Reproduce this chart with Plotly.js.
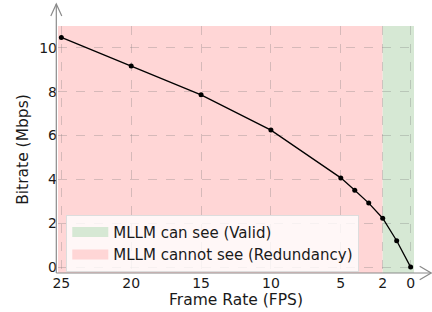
<!DOCTYPE html>
<html>
<head>
<meta charset="utf-8">
<script src="https://cdn.plot.ly/plotly-3.0.1.min.js"></script>
<style>html,body{margin:0;padding:0;background:#fff;}#chart{width:432px;height:312px;}</style>
</head>
<body>
<div id="chart"></div>
<script>
// Data
const fps = [25, 20, 15, 10, 5, 4, 3, 2, 1, 0];
const bitrate = [10.48, 9.18, 7.86, 6.25, 4.07, 3.51, 2.92, 2.23, 1.20, 0.0];
const xTicks = [25, 20, 15, 10, 5, 2, 0];
const yTicks = [0, 2, 4, 6, 8, 10];
const threshold = 2;
const xRange = [25.24, -0.24];
const yRange = [-0.27, 11.0];
const validLabel = 'MLLM can see (Valid)';
const redundantLabel = 'MLLM cannot see (Redundancy)';
const validColor = '#d6e8d4';
const redundantColor = '#ffd6d6';

const W = 432, H = 312;
const M = {l: 57.7, r: 17.7, t: 26, b: 38.7};
const pw = W - M.l - M.r, ph = H - M.t - M.b;
const px2x = p => (p - M.l) / pw;
const py2y = p => (H - M.b - p) / ph;

const axisCol = '#8a8a8a';
const font = 'DejaVu Sans, sans-serif';

const trace = {
  x: fps, y: bitrate, type: 'scatter', mode: 'lines+markers',
  line: {color: '#000', width: 1.3},
  marker: {color: '#000', size: 5},
  showlegend: false, hoverinfo: 'skip'
};
// legend entries for the shaded regions
const legValid = {x: [null], y: [null], type: 'scatter', mode: 'lines',
  line: {color: validColor, width: 11}, name: validLabel, showlegend: true, hoverinfo: 'skip'};
const legRed = {x: [null], y: [null], type: 'scatter', mode: 'lines',
  line: {color: redundantColor, width: 11}, name: redundantLabel, showlegend: true, hoverinfo: 'skip'};

const shapes = [
  {type: 'rect', xref: 'x', yref: 'paper', x0: xRange[0], x1: threshold, y0: 0, y1: 1,
   fillcolor: redundantColor, line: {width: 0}, layer: 'below'},
  {type: 'rect', xref: 'x', yref: 'paper', x0: threshold, x1: xRange[1], y0: 0, y1: 1,
   fillcolor: validColor, line: {width: 0}, layer: 'below'},
  // left axis with arrow
  {type: 'line', xref: 'paper', yref: 'paper', x0: px2x(56), x1: px2x(56), y0: 0, y1: py2y(4),
   line: {color: axisCol, width: 1.2}},
  {type: 'path', xref: 'paper', yref: 'paper',
   path: `M${px2x(50.5)},${py2y(16)} L${px2x(56)},${py2y(4)} L${px2x(61.5)},${py2y(16)}`,
   line: {color: axisCol, width: 1.2}},
  // bottom axis with arrow
  {type: 'line', xref: 'paper', yref: 'paper', x0: px2x(56), x1: px2x(431.5), y0: 0, y1: 0,
   line: {color: axisCol, width: 1.2}},
  {type: 'path', xref: 'paper', yref: 'paper',
   path: `M${px2x(420)},${py2y(266.5)} L${px2x(431.5)},${py2y(273.3)} L${px2x(420)},${py2y(280)}`,
   line: {color: axisCol, width: 1.2}}
];

const layout = {
  width: W, height: H,
  margin: M,
  paper_bgcolor: '#fff', plot_bgcolor: 'rgba(0,0,0,0)',
  font: {family: font, size: 14, color: '#1a1a1a'},
  xaxis: {
    range: xRange, tickvals: xTicks, ticktext: xTicks.map(String),
    showgrid: true, gridcolor: 'rgba(120,120,120,0.3)', griddash: 'dash', gridwidth: 1,
    zeroline: false, showline: false, ticks: '',
    title: {text: 'Frame Rate (FPS)', font: {size: 15.5}, standoff: 0},
    fixedrange: true
  },
  yaxis: {
    range: yRange, tickvals: yTicks,
    showgrid: true, gridcolor: 'rgba(120,120,120,0.3)', griddash: 'dash', gridwidth: 1,
    zeroline: false, showline: false, ticks: '',
    title: {text: 'Bitrate (Mbps)', font: {size: 15.5}, standoff: 6},
    fixedrange: true
  },
  shapes: shapes,
  legend: {
    x: px2x(66), y: py2y(272), xanchor: 'left', yanchor: 'bottom',
    bgcolor: 'rgba(255,255,255,0.8)', bordercolor: '#dddddd', borderwidth: 1,
    font: {size: 15, color: '#1a1a1a'}, itemwidth: 36, traceorder: 'normal',
    tracegroupgap: 0
  },
  showlegend: true
};

Plotly.newPlot('chart', [trace, legValid, legRed], layout, {displayModeBar: false, staticPlot: true});
</script>
</body>
</html>
